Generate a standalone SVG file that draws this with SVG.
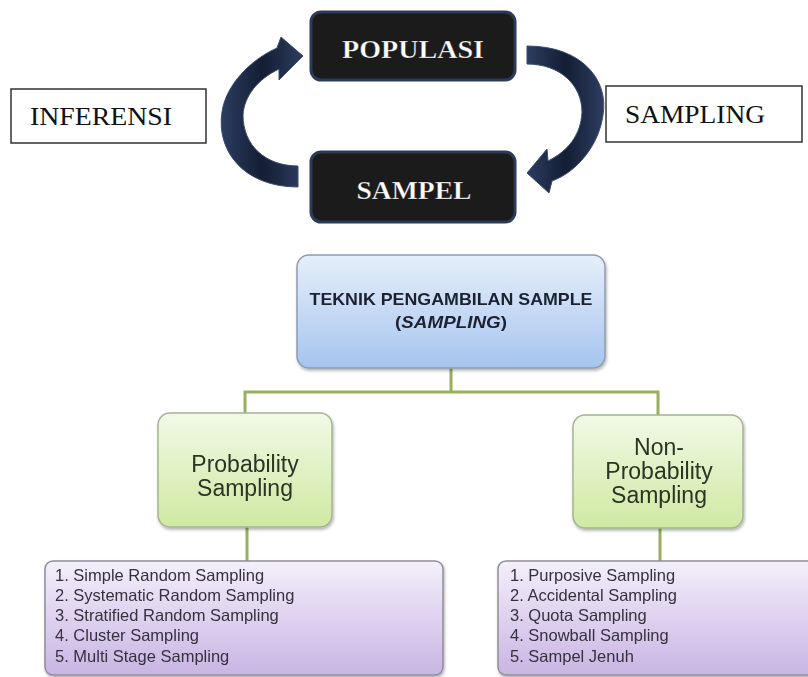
<svg xmlns="http://www.w3.org/2000/svg" width="808" height="677" viewBox="0 0 808 677">
  <defs>
    <linearGradient id="gBlue" x1="0" y1="0" x2="0" y2="1">
      <stop offset="0" stop-color="#e6effb"/>
      <stop offset="1" stop-color="#a6c4ee"/>
    </linearGradient>
    <linearGradient id="gGreen" x1="0" y1="0" x2="0" y2="1">
      <stop offset="0" stop-color="#f2f9e7"/>
      <stop offset="1" stop-color="#cfe9a2"/>
    </linearGradient>
    <linearGradient id="gPurple" x1="0" y1="0" x2="0" y2="1">
      <stop offset="0" stop-color="#f4effb"/>
      <stop offset="1" stop-color="#c8b5e3"/>
    </linearGradient>
    <linearGradient id="gArrow" x1="0" y1="0" x2="1" y2="0">
      <stop offset="0" stop-color="#2c3d60"/>
      <stop offset="0.5" stop-color="#141e34"/>
      <stop offset="1" stop-color="#2c3d60"/>
    </linearGradient>
    <filter id="sh" x="-10%" y="-10%" width="120%" height="130%">
      <feDropShadow dx="1" dy="2" stdDeviation="1.5" flood-color="#000" flood-opacity="0.3"/>
    </filter>
  </defs>
  <style>
    .dark { fill: #1b1b1b; stroke: #2b3b5a; stroke-width: 3; }
    .lbl { fill: #ffffff; stroke: #000; stroke-width: 0.6; stroke-opacity: 0.5; font-family: "Liberation Serif", serif; font-weight: bold; font-size: 25px; text-anchor: middle; }
    .side { fill: #ffffff; stroke: #333; stroke-width: 1.5; }
    .sidet { fill: #111; font-family: "Liberation Serif", serif; font-size: 26px; }
    .arrow { fill: url(#gArrow); stroke: #3a4c70; stroke-width: 1; }
    .blue { fill: url(#gBlue); stroke: #8f9cae; stroke-width: 1.5; }
    .green { fill: url(#gGreen); stroke: #a4b492; stroke-width: 1.5; }
    .purple { fill: url(#gPurple); stroke: #8e8e98; stroke-width: 1.5; }
    .tb { fill: #1c2233; font-family: "Liberation Sans", sans-serif; font-weight: bold; font-size: 17px; text-anchor: middle; }
    .tg { fill: #2a3424; font-family: "Liberation Sans", sans-serif; font-size: 23px; text-anchor: middle; }
    .tl { fill: #34323f; font-family: "Liberation Sans", sans-serif; font-size: 16.5px; }
    .conn { fill: none; stroke: #98b05c; stroke-width: 3; }
  </style>

  <g id="connectors">
    <path class="arrow" d="M 298,187 C 243,187 216,150 222,112 C 226,85 250,60 277,48 L 281,37 L 303,56 L 279,80 L 279,69 C 258,79 244,96 243,115 C 243,145 265,166 298,166 Z"/>
    <path class="arrow" d="M 527,46 C 582,46 609,80 603,115 C 599,145 577,172 552,181 L 549,193 L 527,173 L 547,149 L 548,161 C 568,151 581,135 582,112 C 582,85 560,64 527,64 Z"/>
    <path class="conn" d="M 451,368 V 392 M 245,392 H 658 M 245,390.5 V 414 M 658,390.5 V 416 M 247,527 V 562 M 660,528 V 562"/>
  </g>

  <g id="populasi">
    <rect class="dark" x="311" y="12" width="204" height="68" rx="10"/>
    <text class="lbl" x="413" y="58" textLength="142" lengthAdjust="spacingAndGlyphs">POPULASI</text>
  </g>
  <g id="sampel">
    <rect class="dark" x="311" y="152" width="204" height="70" rx="10"/>
    <text class="lbl" x="414" y="199" textLength="115" lengthAdjust="spacingAndGlyphs">SAMPEL</text>
  </g>
  <g id="inferensi">
    <rect class="side" x="11" y="89" width="195" height="54"/>
    <text class="sidet" x="30" y="125" textLength="142" lengthAdjust="spacingAndGlyphs">INFERENSI</text>
  </g>
  <g id="sampling">
    <rect class="side" x="606" y="86" width="196" height="56"/>
    <text class="sidet" x="625" y="123" textLength="140" lengthAdjust="spacingAndGlyphs">SAMPLING</text>
  </g>

  <g id="teknik" filter="url(#sh)">
    <rect class="blue" x="297" y="255" width="308" height="113" rx="12"/>
    <text class="tb" x="451" y="305" textLength="283" lengthAdjust="spacingAndGlyphs">TEKNIK PENGAMBILAN SAMPLE</text>
    <text class="tb" x="451" y="328" font-size="19" textLength="112" lengthAdjust="spacingAndGlyphs">(<tspan font-style="italic">SAMPLING</tspan>)</text>
  </g>

  <g id="probability" filter="url(#sh)">
    <rect class="green" x="158" y="413" width="174" height="114" rx="12"/>
    <text class="tg" x="245" y="472">Probability</text>
    <text class="tg" x="245" y="496">Sampling</text>
  </g>
  <g id="nonprobability" filter="url(#sh)">
    <rect class="green" x="573" y="415" width="170" height="113" rx="12"/>
    <text class="tg" x="659" y="455">Non-</text>
    <text class="tg" x="659" y="479">Probability</text>
    <text class="tg" x="659" y="503">Sampling</text>
  </g>

  <g id="listprob" filter="url(#sh)">
    <rect class="purple" x="45" y="561" width="398" height="114" rx="8"/>
    <text class="tl" x="55" y="581">1. Simple Random Sampling</text>
    <text class="tl" x="55" y="601">2. Systematic Random Sampling</text>
    <text class="tl" x="55" y="621">3. Stratified Random Sampling</text>
    <text class="tl" x="55" y="641">4. Cluster Sampling</text>
    <text class="tl" x="55" y="662">5. Multi Stage Sampling</text>
  </g>
  <g id="listnonprob" filter="url(#sh)">
    <rect class="purple" x="498" y="561" width="320" height="114" rx="8"/>
    <text class="tl" x="510" y="581">1. Purposive Sampling</text>
    <text class="tl" x="510" y="601">2. Accidental Sampling</text>
    <text class="tl" x="510" y="621">3. Quota Sampling</text>
    <text class="tl" x="510" y="641">4. Snowball Sampling</text>
    <text class="tl" x="510" y="662">5. Sampel Jenuh</text>
  </g>
</svg>
